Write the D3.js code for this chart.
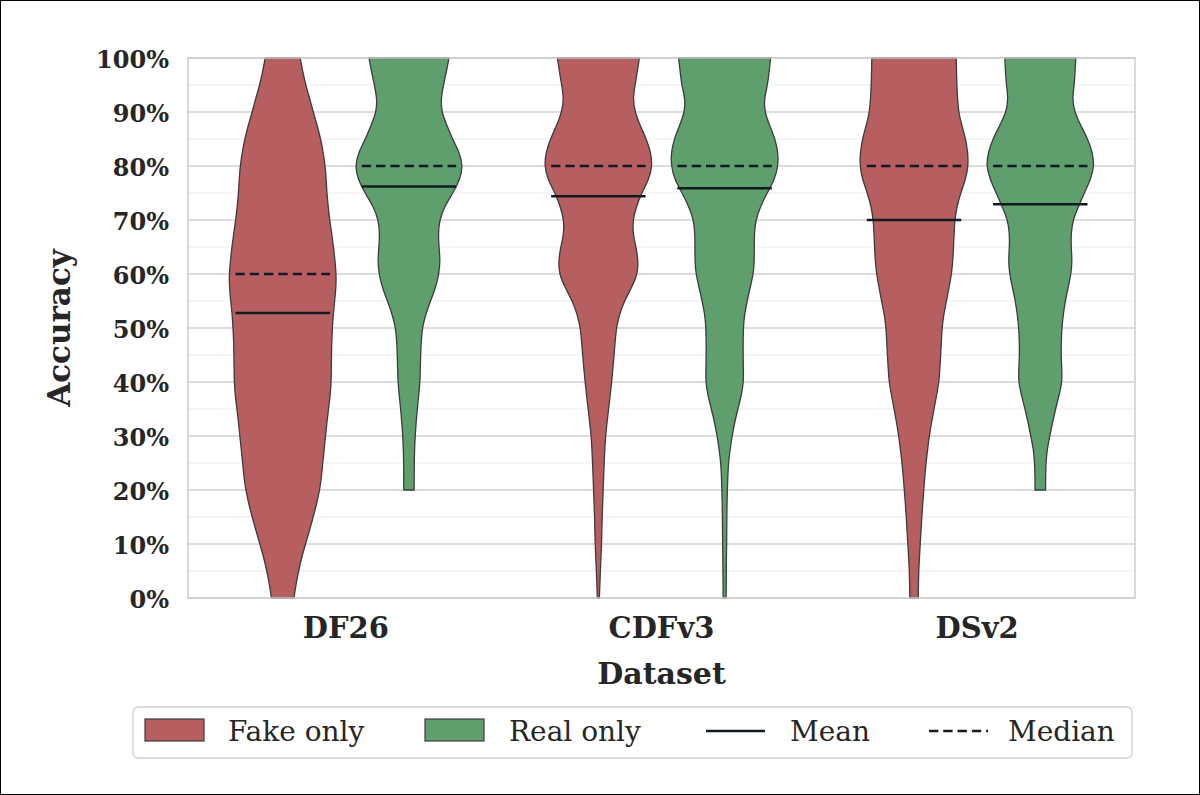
<!DOCTYPE html>
<html><head><meta charset="utf-8">
<script src="https://cdn.jsdelivr.net/npm/d3@7/dist/d3.min.js"></script>
<style>body{margin:0;background:#fff}</style>
</head><body><svg id="chart" width="1200" height="795"></svg>
<script>
// ---------- DATA ----------
const categories = ["DF26", "CDFv3", "DSv2"];
const series = ["Fake only", "Real only"];
const yTicks = [0, 10, 20, 30, 40, 50, 60, 70, 80, 90, 100];
const yMinorTicks = [5, 15, 25, 35, 45, 55, 65, 75, 85, 95];
// accuracy levels (top to bottom) at which violin density widths were read
const accuracyLevels = [100, 97.5, 95, 92.5, 90, 87.5, 85, 82.5, 80, 77.5, 75, 72.5, 70, 67.5, 65, 62.5, 60, 57.5, 55, 52.5, 50,
  47.5, 45, 42.5, 40, 37.5, 35, 32.5, 30, 27.5, 25, 22.5, 20, 17.5, 15, 12.5, 10, 7.5, 5, 2.5, 0];
// relative density (violin half-width) per level
const df26Fake = [17.5, 20, 23, 27, 30.5, 34.5, 38, 40.5, 42.5, 43.5, 44.2, 45.5, 47, 49, 50.8, 52.3, 53.5, 53.3, 52, 50.5, 49.7,
  49, 48.8, 48.6, 48.5, 47.5, 45.8, 44.2, 42.8, 41.5, 40, 38.8, 37, 34, 30.5, 26.8, 22.8, 19, 15.8, 13.3, 11.3];
const df26Real = [40, 37.5, 34.5, 32, 32.5, 38, 43.5, 50.5, 54, 51, 44, 35.5, 30.5, 29.3, 30, 31.3, 30, 26.7, 21.5, 16.7, 13.3,
  12.2, 11.7, 11.3, 11, 9.8, 8.3, 7.2, 6.2, 5.6, 5.3, 5.2, 5.2];
const cdfv3Fake = [41, 39, 36.7, 34.5, 36.5, 41.7, 48, 52.5, 54, 50.5, 43.3, 38, 34.5, 34.5, 37.7, 39.8, 39.3, 33.3, 26, 21, 18,
  16.8, 15.7, 14.5, 13.3, 11.8, 10.2, 8.7, 7.2, 6.4, 5.8, 5.3, 4.8, 4.3, 3.8, 3.5, 3.2, 2.6, 2, 1.5, 1];
const cdfv3Real = [46, 44.5, 43, 39.5, 40, 45, 50.5, 53.5, 53.5, 50, 42.5, 35.8, 31, 29.7, 29.7, 29.7, 28.8, 25.5, 22.5, 19.8, 18.7,
  18.5, 18.5, 18.7, 19, 16.7, 13.3, 10, 7.5, 5.5, 3.8, 3.2, 2.7, 2.4, 2.2, 2.1, 2, 1.8, 1.7, 1.6, 1.5];
const dsv2Fake = [42.2, 42.5, 42.8, 43.5, 44.5, 47.8, 51.7, 53.8, 54.3, 51.5, 46.7, 42.8, 40.8, 40, 39.5, 38.8, 37.5, 35, 32.5, 29.7, 28,
  27.3, 26.7, 25.8, 25, 22.5, 20, 17.5, 15.3, 13.6, 12, 10.8, 9.7, 8.7, 7.8, 7, 6.2, 5.4, 4.7, 4.4, 4.2];
const dsv2Real = [35.5, 34.8, 34, 32, 34, 40.5, 47.5, 52.2, 54, 50.3, 44, 38.3, 32.5, 30.8, 30.8, 31.9, 30.8, 27.8, 25, 23, 21.5,
  21, 20.8, 21.5, 21.9, 18.7, 15.3, 12.2, 9.5, 6.8, 5.7, 5.3, 5.3];
const fakeMeans = [52.8, 74.4, 70.0];
const realMeans = [76.2, 75.9, 72.9];
const fakeMedians = [60, 80, 80];
const realMedians = [80, 80, 80];
const legendLabels = ["Fake only", "Real only", "Mean", "Median"];

// ---------- STYLE ----------
const colors = { "Fake only": "#b65e60", "Real only": "#5f9f6e" };
const serif = "'DejaVu Serif', 'Liberation Serif', serif";
const textColor = "#262626";
const lineColor = "#141a24";

const svg = d3.select("#chart");
svg.append("rect").attr("x", 0.5).attr("y", 0.5).attr("width", 1199).attr("height", 794)
  .attr("fill", "#fff").attr("stroke", "#000").attr("stroke-width", 1);

const M = { left: 188, right: 1135, top: 58, bottom: 598 };
const x = d3.scaleBand().domain(categories).range([M.left, M.right]).padding(0);
const hue = d3.scaleBand().domain(series).range([x.bandwidth() * 0.1, x.bandwidth() * 0.9]);
const y = d3.scaleLinear().domain([0, 100]).range([M.bottom, M.top]);
const densities = [[df26Fake, df26Real], [cdfv3Fake, cdfv3Real], [dsv2Fake, dsv2Real]];
const maxDen = d3.max(densities.flat(2));
const w = d3.scaleLinear().domain([0, maxDen]).range([0, hue.bandwidth() / 2 * 0.86]);
const means = [fakeMeans, realMeans];
const medians = [fakeMedians, realMedians];

// grid
const gMinor = svg.append("g");
gMinor.selectAll("line").data(yMinorTicks).join("line")
  .attr("x1", M.left).attr("x2", M.right).attr("y1", d => y(d)).attr("y2", d => y(d))
  .attr("stroke", "#ebebeb").attr("stroke-width", 1);
const gMajor = svg.append("g");
gMajor.selectAll("line").data(yTicks).join("line")
  .attr("x1", M.left).attr("x2", M.right).attr("y1", d => y(d)).attr("y2", d => y(d))
  .attr("stroke", "#d2d2d2").attr("stroke-width", 1.3);

// violins
const vg = svg.append("g");
categories.forEach((cat, ci) => {
  series.forEach((s, si) => {
    const cx = x(cat) + hue(s) + hue.bandwidth() / 2;
    const pts = densities[ci][si].map((d, i) => ({ acc: accuracyLevels[i], den: d }));
    const area = d3.area().curve(d3.curveBasis)
      .y(d => y(d.acc)).x0(d => cx - w(d.den)).x1(d => cx + w(d.den));
    vg.append("path").attr("d", area(pts))
      .attr("fill", colors[s]).attr("stroke", "#3c3c3c").attr("stroke-width", 1.3)
      .attr("stroke-linejoin", "round");
  });
});

// mean / median lines
const lg = svg.append("g");
const halfLine = hue.bandwidth() / 2 * 0.748;
categories.forEach((cat, ci) => {
  series.forEach((s, si) => {
    const cx = x(cat) + hue(s) + hue.bandwidth() / 2;
    lg.append("line").attr("x1", cx - halfLine).attr("x2", cx + halfLine)
      .attr("y1", y(medians[si][ci])).attr("y2", y(medians[si][ci]))
      .attr("stroke", lineColor).attr("stroke-width", 2.5).attr("stroke-dasharray", "9.3,5");
    lg.append("line").attr("x1", cx - halfLine).attr("x2", cx + halfLine)
      .attr("y1", y(means[si][ci])).attr("y2", y(means[si][ci]))
      .attr("stroke", lineColor).attr("stroke-width", 2.5);
  });
});

// plot frame
svg.append("rect").attr("x", M.left).attr("y", M.top).attr("width", M.right - M.left).attr("height", M.bottom - M.top)
  .attr("fill", "none").attr("stroke", "#cccccc").attr("stroke-width", 1.5);

// axes
const yAxis = svg.append("g").attr("transform", `translate(${M.left},0)`)
  .call(d3.axisLeft(y).tickValues(yTicks).tickFormat(d => d + "%").tickSize(0).tickPadding(19));
yAxis.select(".domain").remove();
yAxis.selectAll("text").attr("dy", "0.38em")
  .style("font-family", serif).style("font-weight", "bold").style("font-size", "24px").attr("fill", textColor);

const xAxis = svg.append("g").attr("transform", `translate(0,${M.bottom})`)
  .call(d3.axisBottom(x).tickSize(0).tickPadding(19.5));
xAxis.select(".domain").remove();
xAxis.selectAll("text")
  .style("font-family", serif).style("font-weight", "bold").style("font-size", "29px").attr("fill", textColor);

svg.append("text").attr("x", (M.left + M.right) / 2).attr("y", 684).attr("text-anchor", "middle")
  .style("font-family", serif).style("font-weight", "bold").style("font-size", "30px").attr("fill", textColor)
  .text("Dataset");
svg.append("text").attr("transform", `translate(70,${(M.top + M.bottom) / 2}) rotate(-90)`).attr("text-anchor", "middle")
  .style("font-family", serif).style("font-weight", "bold").style("font-size", "31px").attr("fill", textColor)
  .text("Accuracy");

// legend
const leg = svg.append("g");
leg.append("rect").attr("x", 133).attr("y", 707).attr("width", 999).attr("height", 51).attr("rx", 5)
  .attr("fill", "#fff").attr("stroke", "#d0d0d0").attr("stroke-width", 1.3);
const legX = [145, 425, 706, 929];
const legTextX = [228, 509, 790, 1008];
legendLabels.forEach((lab, i) => {
  if (i < 2) {
    leg.append("rect").attr("x", legX[i]).attr("y", 719).attr("width", 59).attr("height", 22)
      .attr("fill", colors[lab]).attr("stroke", "#3c3c3c").attr("stroke-width", 1.2);
  } else {
    leg.append("line").attr("x1", legX[i]).attr("x2", legX[i] + 59).attr("y1", 731).attr("y2", 731)
      .attr("stroke", lineColor).attr("stroke-width", 2.5)
      .attr("stroke-dasharray", i === 3 ? "9.3,5" : null);
  }
  leg.append("text").attr("x", legTextX[i]).attr("y", 741)
    .style("font-family", serif).style("font-size", "28px").attr("fill", textColor).text(lab);
});
</script></body></html>
